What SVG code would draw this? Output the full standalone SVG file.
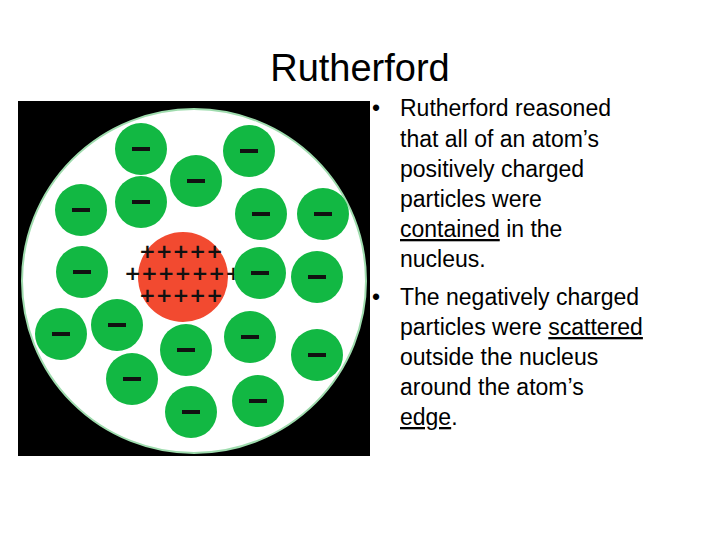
<svg xmlns="http://www.w3.org/2000/svg" width="720" height="540" viewBox="0 0 720 540">
<style>
.e{fill:#12b843}
.m{stroke:#111;stroke-width:4}
.t{font-family:"Liberation Sans",Arial,sans-serif;font-size:23px;fill:#000}
.p{font-family:"DejaVu Sans",sans-serif;font-size:20px;font-weight:bold;fill:#111;text-anchor:middle}
</style>
<defs>
<g id="el"><circle r="26" class="e"/><line x1="-9" y1="0" x2="9" y2="0" class="m"/></g>
</defs>
<rect width="720" height="540" fill="#fff"/>
<text x="360" y="81" text-anchor="middle" font-family="Liberation Sans,Arial,sans-serif" font-size="38">Rutherford</text>
<g id="atom">
<rect x="18" y="101" width="352" height="355" fill="#000"/>
<circle cx="194" cy="281" r="172" fill="#fff" stroke="#9fdcae" stroke-width="2"/>
<g id="nucleus"><circle cx="183" cy="277" r="45" fill="#f24a30"/>
<text x="181" y="258" class="p">+++++</text>
<text x="183" y="280" class="p">+++++++</text>
<text x="181" y="302" class="p">+++++</text></g>
<g id="electrons">
<use href="#el" x="141" y="149"/><use href="#el" x="249" y="151"/><use href="#el" x="196" y="181"/>
<use href="#el" x="141" y="202"/><use href="#el" x="81" y="210"/><use href="#el" x="261" y="214"/>
<use href="#el" x="323" y="214"/><use href="#el" x="82" y="272"/><use href="#el" x="260" y="273"/>
<use href="#el" x="317" y="277"/><use href="#el" x="61" y="334"/><use href="#el" x="117" y="325"/>
<use href="#el" x="186" y="350"/><use href="#el" x="250" y="337"/><use href="#el" x="317" y="355"/>
<use href="#el" x="132" y="379"/><use href="#el" x="191" y="412"/><use href="#el" x="258" y="401"/>
</g>
</g>
<g id="bullets" class="t">
<text x="372" y="116">•</text>
<text x="400" y="116">Rutherford reasoned</text>
<text x="400" y="147">that all of an atom’s</text>
<text x="400" y="177">positively charged</text>
<text x="400" y="207">particles were</text>
<text x="400" y="237"><tspan text-decoration="underline">contained</tspan> in the</text>
<text x="400" y="267">nucleus.</text>
<text x="372" y="305">•</text>
<text x="400" y="305">The negatively charged</text>
<text x="400" y="335">particles were <tspan text-decoration="underline">scattered</tspan></text>
<text x="400" y="365">outside the nucleus</text>
<text x="400" y="395">around the atom’s</text>
<text x="400" y="425"><tspan text-decoration="underline">edge</tspan>.</text>
</g>
</svg>
